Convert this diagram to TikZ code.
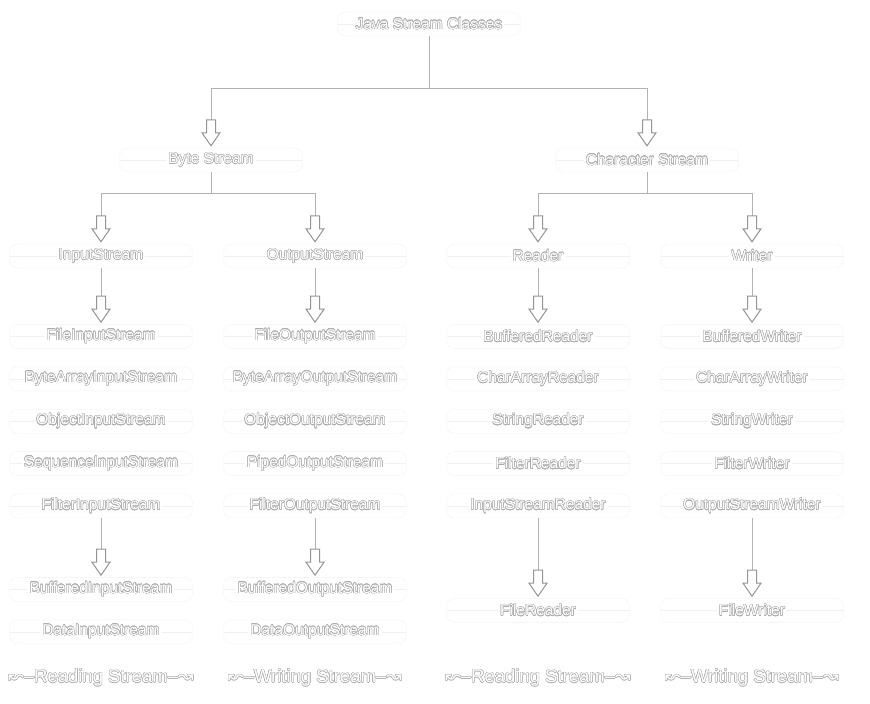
\documentclass[tikz,border=0pt]{standalone}
\usepackage{fontspec}
\setmainfont{Liberation Sans}
\newfontfamily\symfont{DejaVu Sans}
\usepackage{contour}
\contourlength{0.45pt}
\setlength{\fboxsep}{2pt}
\usetikzlibrary{positioning}

% hollow block arrow
\pgfdeclarearrow{
  name = Block,
  setup code = {
    \pgfarrowssettipend{0pt}
    \pgfarrowssetlineend{-24pt}
    \pgfarrowssetvisualbackend{-26pt}
    \pgfarrowssetbackend{-26pt}
    \pgfarrowshullpoint{0pt}{0pt}
    \pgfarrowsupperhullpoint{-26pt}{9pt}
  },
  drawing code = {
    \pgfpathmoveto{\pgfpoint{0pt}{0pt}}
    \pgfpathlineto{\pgfpoint{-13pt}{9pt}}
    \pgfpathlineto{\pgfpoint{-13pt}{4.5pt}}
    \pgfpathlineto{\pgfpoint{-26pt}{4.5pt}}
    \pgfpathlineto{\pgfpoint{-26pt}{-4.5pt}}
    \pgfpathlineto{\pgfpoint{-13pt}{-4.5pt}}
    \pgfpathlineto{\pgfpoint{-13pt}{-9pt}}
    \pgfpathclose
    \pgfsetfillcolor{white}
    \pgfsetstrokecolor{black!42}
    \pgfusepathqfillstroke
  }
}

\tikzstyle{cls} = [rectangle, rounded corners=8pt, minimum width=183pt,
minimum height=24pt, inner sep=0pt, draw=black!5, fill=white, text=white,
font=\fontsize{15.5}{18}\selectfont,
path picture={\draw[black!6] (path picture bounding box.west) -- (path picture bounding box.east);}]
\tikzstyle{foot} = [text=white, font=\fontsize{18.5}{22}\selectfont]
\tikzstyle{arrow} = [draw=black!30, line width=1pt, -Block, shorten >=2pt]
\tikzstyle{line} = [draw=black!30, line width=1pt]

\newcommand{\cname}[1]{\colorbox{white}{\contour{black!32}{#1}}}
\newcommand{\fname}[1]{\contour{black!32}{{\symfont ↜}–#1–{\symfont ↝}}}

\begin{document}
\begin{tikzpicture}[x=1pt, y=-1pt, node distance=18pt]
        \useasboundingbox (0,0) rectangle (870,704);
        \node (java) [cls] at (429,24) {\cname{Java Stream Classes}};
        \node (byte) [cls] at (211,160) {\cname{Byte Stream}};
        \node (char) [cls] at (647,160) {\cname{Character Stream}};

        \node (in) [cls] at (101,256) {\cname{InputStream}};
        \node (out) [cls] at (315,256) {\cname{OutputStream}};
        \node (rd) [cls] at (538,256) {\cname{Reader}};
        \node (wr) [cls] at (752,256) {\cname{Writer}};

        % byte streams, reading
        \node (fis) [cls, below=56pt of in] {\cname{FileInputStream}};
        \node (bais) [cls, below=of fis] {\cname{ByteArrayInputStream}};
        \node (ois) [cls, below=of bais] {\cname{ObjectInputStream}};
        \node (sis) [cls, below=of ois] {\cname{SequenceInputStream}};
        \node (filis) [cls, below=of sis] {\cname{FilterInputStream}};
        \node (bis) [cls, below=59pt of filis] {\cname{BufferedInputStream}};
        \node (dis) [cls, below=of bis] {\cname{DataInputStream}};

        % byte streams, writing
        \node (fos) [cls, below=56pt of out] {\cname{FileOutputStream}};
        \node (baos) [cls, below=of fos] {\cname{ByteArrayOutputStream}};
        \node (oos) [cls, below=of baos] {\cname{ObjectOutputStream}};
        \node (pos) [cls, below=of oos] {\cname{PipedOutputStream}};
        \node (filos) [cls, below=of pos] {\cname{FilterOutputStream}};
        \node (bos) [cls, below=59pt of filos] {\cname{BufferedOutputStream}};
        \node (dos) [cls, below=of bos] {\cname{DataOutputStream}};

        % character streams
        \node (br) [cls, below=56pt of rd] {\cname{BufferedReader}};
        \node (car) [cls, below=of br] {\cname{CharArrayReader}};
        \node (sr) [cls, below=of car] {\cname{StringReader}};
        \node (flr) [cls, below=of sr] {\cname{FilterReader}};
        \node (isr) [cls, below=of flr] {\cname{InputStreamReader}};
        \node (fr) [cls, below=80pt of isr] {\cname{FileReader}};

        \node (bw) [cls, below=56pt of wr] {\cname{BufferedWriter}};
        \node (caw) [cls, below=of bw] {\cname{CharArrayWriter}};
        \node (sw) [cls, below=of caw] {\cname{StringWriter}};
        \node (flw) [cls, below=of sw] {\cname{FilterWriter}};
        \node (osw) [cls, below=of flw] {\cname{OutputStreamWriter}};
        \node (fw) [cls, below=80pt of osw] {\cname{FileWriter}};

        \node (f1) [foot] at (101,678) {\fname{Reading Stream}};
        \node (f2) [foot] at (315,678) {\fname{Writing Stream}};
        \node (f3) [foot] at (538,678) {\fname{Reading Stream}};
        \node (f4) [foot] at (752,678) {\fname{Writing Stream}};

        \coordinate (j0) at (429,88);
        \coordinate (j1) at (211,193);
        \coordinate (j2) at (647,193);

        \draw [line] (java) -- (j0);
        \draw [arrow] (j0) -| (byte);
        \draw [arrow] (j0) -| (char);
        \draw [line] (byte) -- (j1);
        \draw [arrow] (j1) -| (in);
        \draw [arrow] (j1) -| (out);
        \draw [line] (char) -- (j2);
        \draw [arrow] (j2) -| (rd);
        \draw [arrow] (j2) -| (wr);

        \draw [arrow] (in) -- (fis);
        \draw [arrow] (out) -- (fos);
        \draw [arrow] (rd) -- (br);
        \draw [arrow] (wr) -- (bw);
        \draw [arrow] (filis) -- (bis);
        \draw [arrow] (filos) -- (bos);
        \draw [arrow] (isr) -- (fr);
        \draw [arrow] (osw) -- (fw);

    \end{tikzpicture}
\end{document}
